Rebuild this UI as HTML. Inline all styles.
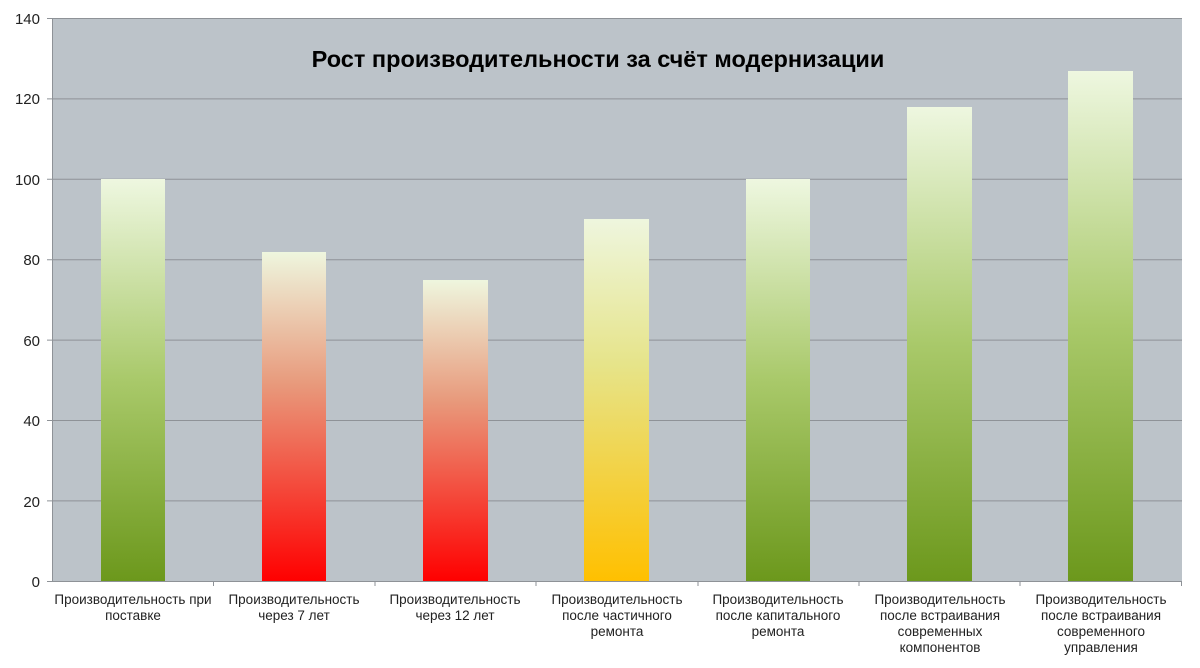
<!DOCTYPE html>
<html><head><meta charset="utf-8"><style>
body{margin:0;background:#fff;}
</style></head><body>
<svg width="1200" height="663" xmlns="http://www.w3.org/2000/svg" font-family="Liberation Sans, sans-serif">
<defs>
<linearGradient id="g" x1="0" y1="0" x2="0" y2="1">
<stop offset="0" stop-color="#eef7e0"/><stop offset="0.5" stop-color="#a9c96a"/><stop offset="1" stop-color="#6c981c"/></linearGradient>
<linearGradient id="r" x1="0" y1="0" x2="0" y2="1">
<stop offset="0" stop-color="#eef6de"/><stop offset="0.4" stop-color="#e89a7c"/><stop offset="1" stop-color="#ff0000"/></linearGradient>
<linearGradient id="y" x1="0" y1="0" x2="0" y2="1">
<stop offset="0" stop-color="#eef6de"/><stop offset="0.4" stop-color="#e6e48a"/><stop offset="1" stop-color="#ffc000"/></linearGradient>
</defs>
<rect x="52" y="18" width="1130" height="563" fill="#bcc3c9"/>
<g stroke="#8e9297" stroke-width="1">
<line x1="47" y1="18.5" x2="1182" y2="18.5"/>
<line x1="47" y1="98.9" x2="1182" y2="98.9"/>
<line x1="47" y1="179.3" x2="1182" y2="179.3"/>
<line x1="47" y1="259.7" x2="1182" y2="259.7"/>
<line x1="47" y1="340.1" x2="1182" y2="340.1"/>
<line x1="47" y1="420.5" x2="1182" y2="420.5"/>
<line x1="47" y1="500.9" x2="1182" y2="500.9"/>
<line x1="47" y1="581.5" x2="1182" y2="581.5"/>
<line x1="52.5" y1="18" x2="52.5" y2="581"/>
<line x1="213.5" y1="581" x2="213.5" y2="586"/><line x1="375" y1="581" x2="375" y2="586"/><line x1="536" y1="581" x2="536" y2="586"/><line x1="698" y1="581" x2="698" y2="586"/><line x1="859" y1="581" x2="859" y2="586"/><line x1="1020" y1="581" x2="1020" y2="586"/><line x1="1181.5" y1="581" x2="1181.5" y2="586"/>
</g>
<g font-size="15" fill="#222" text-anchor="end">
<text x="40" y="24">140</text><text x="40" y="104">120</text><text x="40" y="185">100</text><text x="40" y="265">80</text><text x="40" y="346">60</text><text x="40" y="426">40</text><text x="40" y="507">20</text><text x="40" y="587">0</text>
</g>
<text x="598" y="67" font-size="23.5" font-weight="bold" text-anchor="middle" fill="#000">Рост производительности за счёт модернизации</text>
<rect x="101" y="179" width="64" height="402" fill="url(#g)"/>
<rect x="262" y="252" width="64" height="329" fill="url(#r)"/>
<rect x="423" y="280" width="65" height="301" fill="url(#r)"/>
<rect x="584" y="219" width="65" height="362" fill="url(#y)"/>
<rect x="746" y="179" width="64" height="402" fill="url(#g)"/>
<rect x="907" y="107" width="65" height="474" fill="url(#g)"/>
<rect x="1068" y="71" width="65" height="510" fill="url(#g)"/>
<g font-size="13.5" fill="#222" text-anchor="middle">
<text x="133" y="604">Производительность при</text><text x="133" y="620">поставке</text>
<text x="294" y="604">Производительность</text><text x="294" y="620">через 7 лет</text>
<text x="455" y="604">Производительность</text><text x="455" y="620">через 12 лет</text>
<text x="617" y="604">Производительность</text><text x="617" y="620">после частичного</text><text x="617" y="636">ремонта</text>
<text x="778" y="604">Производительность</text><text x="778" y="620">после капитального</text><text x="778" y="636">ремонта</text>
<text x="940" y="604">Производительность</text><text x="940" y="620">после встраивания</text><text x="940" y="636">современных</text><text x="940" y="652">компонентов</text>
<text x="1101" y="604">Производительность</text><text x="1101" y="620">после встраивания</text><text x="1101" y="636">современного</text><text x="1101" y="652">управления</text>
</g>
</svg>
</body></html>
